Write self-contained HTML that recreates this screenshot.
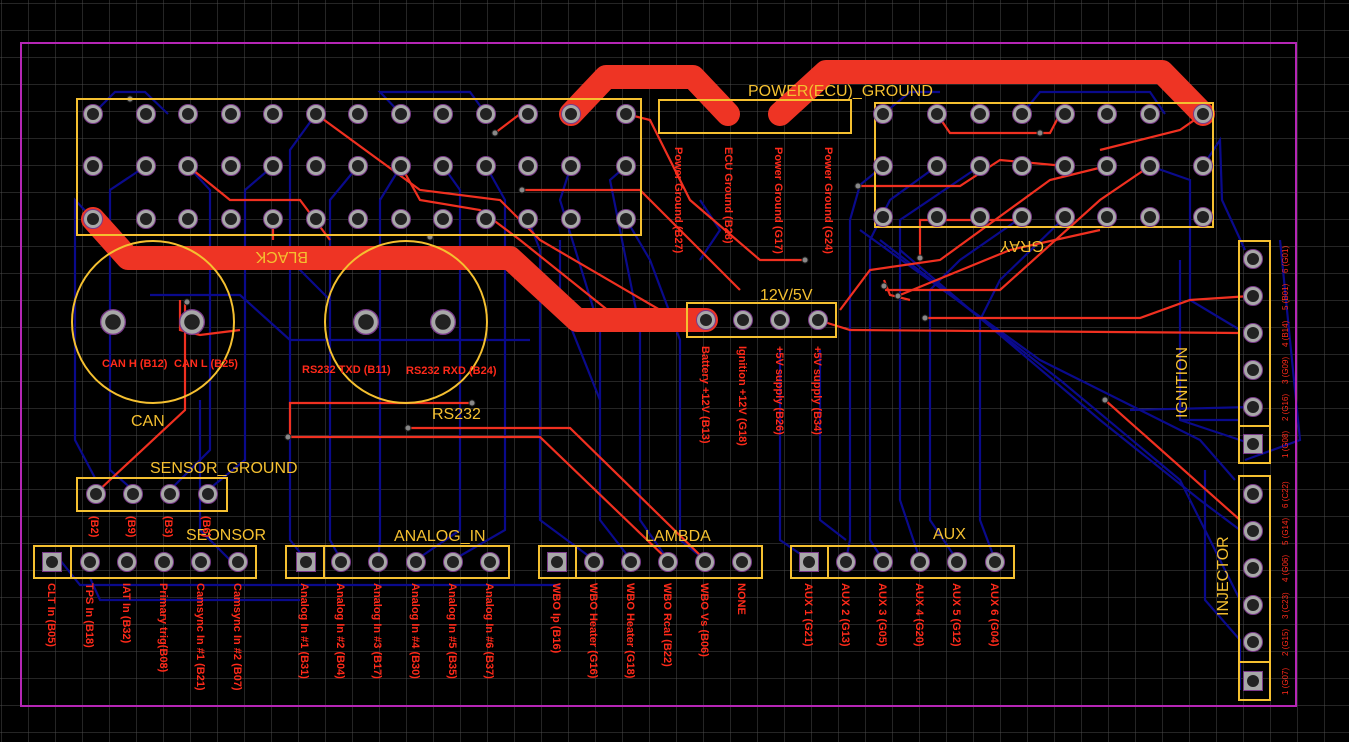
<!DOCTYPE html>
<html><head><meta charset="utf-8"><style>
html,body{margin:0;padding:0;background:#000;}
svg{display:block;}
.lbl{font-family:"Liberation Sans",sans-serif;font-size:11px;font-weight:bold;fill:#ff2a1a;}
.sm{font-family:"Liberation Sans",sans-serif;font-size:8px;fill:#ff2a1a;}
.yl{font-family:"Liberation Sans",sans-serif;font-size:16px;fill:#f5c030;}
</style></head><body>
<svg width="1349" height="742" viewBox="0 0 1349 742" xmlns="http://www.w3.org/2000/svg">
<defs>
<pattern id="g" x="1" y="3" width="27" height="27" patternUnits="userSpaceOnUse">
<path d="M0 0H27M0 0V27" stroke="#4a4a4a" stroke-width="1" fill="none"/>
</pattern>
<g id="p"><circle r="9.5" fill="#a8a8a8" stroke="#7a3a8a" stroke-width="1"/><circle r="6" fill="#222"/></g>
<g id="sq"><rect x="-9.5" y="-9.5" width="19" height="19" fill="#a8a8a8" stroke="#7a3a8a" stroke-width="1"/><circle r="6" fill="#222"/></g>
</defs>
<rect width="1349" height="742" fill="#000"/>
<rect width="1349" height="742" fill="url(#g)"/>

<g stroke="#0a0a8c" stroke-width="2.2" fill="none">
<path d="M93 114 L115 92 L145 92 L168 114"/>
<path d="M93 219 L75 200 L75 440 L95 478"/>
<path d="M146 166 L110 190 L110 470 L133 490"/>
<path d="M188 166 L210 190 L210 450 L170 490"/>
<path d="M273 166 L245 190 L245 460 L208 490"/>
<path d="M316 114 L290 150 L290 540 L306 560"/>
<path d="M358 166 L330 200 L330 540 L341 560"/>
<path d="M401 114 L380 92 L470 92 L486 114"/>
<path d="M401 166 L380 200 L380 540 L378 560"/>
<path d="M443 166 L460 190 L460 530 L416 560"/>
<path d="M486 166 L505 200 L505 530 L453 560"/>
<path d="M528 219 L540 250 L540 520 L594 560"/>
<path d="M571 166 L560 200 L600 330 L600 520 L631 560"/>
<path d="M626 166 L610 180 L640 330 L640 520 L668 560"/>
<path d="M626 219 L650 260 L680 340 L680 540 L705 560"/>
<path d="M883 166 L860 185 L850 220 L850 540 L846 560"/>
<path d="M937 166 L890 200 L870 240 L870 540 L883 560"/>
<path d="M980 166 L900 220 L900 500 L920 560"/>
<path d="M1022 217 L960 260 L930 290 L930 520 L957 560"/>
<path d="M1065 217 L1000 280 L980 320 L980 520 L995 560"/>
<path d="M1150 166 L1190 180 L1190 300 L1240 330"/>
<path d="M1203 166 L1220 140 L1222 200 L1245 250"/>
<path d="M883 114 L910 92 L940 92"/>
<path d="M1022 114 L1040 92 L1150 92 L1165 114"/>
<path d="M900 250 L1100 420 L1200 500 L1240 530"/>
<path d="M880 240 L1060 380 L1180 480 L1240 600"/>
<path d="M860 230 L1040 360 L1200 440 L1235 480"/>
<path d="M1180 260 L1180 420 L1252 444"/>
<path d="M1245 460 L1300 440 L1280 240"/>
<path d="M1180 420 L1240 420"/>
<path d="M1130 410 L1252 407"/>
<path d="M1205 470 L1205 600 L1240 640 L1240 690"/>
<path d="M60 560 L80 585 L260 585 L560 585"/>
<path d="M90 578 L100 600 L300 600"/>
<path d="M140 260 L290 260 L330 300"/>
<path d="M150 295 L240 295 L290 340 L530 340"/>
<path d="M200 400 L200 530 L230 560"/>
<path d="M600 400 L560 300 L560 240"/>
<path d="M700 260 L720 230 L700 200"/>
<path d="M780 350 L780 540 L809 560"/>
<path d="M820 350 L820 520 L846 540"/>
</g>

<g stroke="#f03020" stroke-width="2.2" fill="none">
<path d="M96 493 L185 410 L185 300"/>
<path d="M188 166 L230 200 L300 200 L330 240"/>
<path d="M273 219 L273 240"/>
<path d="M316 114 L420 190 L500 200 L540 240 L660 310 L706 320"/>
<path d="M401 166 L420 200 L480 210 L520 240 L620 320"/>
<path d="M495 133 L520 114"/>
<path d="M522 190 L640 190 L700 250 L740 290"/>
<path d="M626 114 L650 120 L690 200 L760 260 L805 260"/>
<path d="M472 403 L290 403 L290 437"/>
<path d="M288 437 L540 437 L668 560"/>
<path d="M408 428 L570 428 L705 560"/>
<path d="M180 300 L180 330 L200 335 L240 330"/>
<path d="M818 320 L850 330 L1240 333"/>
<path d="M840 310 L870 270 L940 260 L1050 180 L1107 166"/>
<path d="M858 186 L960 186 L1000 160 L1065 166"/>
<path d="M885 290 L1000 290 L1100 200 L1150 166"/>
<path d="M900 295 L1010 250 L1100 230"/>
<path d="M920 258 L920 220 L1022 220"/>
<path d="M925 318 L1140 318 L1190 300 L1250 296"/>
<path d="M1105 400 L1240 520"/>
<path d="M937 114 L950 133 L1050 133 L1060 114"/>
<path d="M1203 114 L1180 130 L1100 150"/>
<path d="M884 280 L890 295 L910 300"/>
</g>

<g stroke="#ee3424" stroke-width="24" fill="none" stroke-linecap="round" stroke-linejoin="round">
<path d="M571 114 L606 77 L693 77 L728 114"/>
<path d="M780 114 L826 72 L1162 72 L1203 114"/>
<path d="M93 219 L128 258 L510 258 L577 320 L706 320"/>
</g>

<g fill="#888" stroke="#222" stroke-width="1">
<circle cx="130" cy="99" r="3"/><circle cx="495" cy="133" r="3"/><circle cx="522" cy="190" r="3"/>
<circle cx="430" cy="237" r="3"/><circle cx="187" cy="302" r="3"/><circle cx="472" cy="403" r="3"/>
<circle cx="288" cy="437" r="3"/><circle cx="408" cy="428" r="3"/><circle cx="805" cy="260" r="3"/>
<circle cx="858" cy="186" r="3"/><circle cx="920" cy="258" r="3"/><circle cx="884" cy="286" r="3"/>
<circle cx="898" cy="296" r="3"/><circle cx="925" cy="318" r="3"/><circle cx="1105" cy="400" r="3"/>
<circle cx="1040" cy="133" r="3"/>
</g>

<rect x="21" y="43" width="1275" height="663" fill="none" stroke="#b526b5" stroke-width="2"/>

<g fill="none" stroke="#f5c030" stroke-width="2">
<rect x="77" y="99" width="564" height="136"/>
<rect x="875" y="103" width="338" height="124"/>
<rect x="659" y="100" width="192" height="33"/>
<circle cx="153" cy="322" r="81"/>
<circle cx="406" cy="322" r="81"/>
<rect x="687" y="303" width="149" height="34"/>
<rect x="77" y="478" width="150" height="33"/>
<rect x="34" y="546" width="222" height="32"/><line x1="71" y1="546" x2="71" y2="578"/>
<rect x="286" y="546" width="223" height="32"/><line x1="324" y1="546" x2="324" y2="578"/>
<rect x="539" y="546" width="223" height="32"/><line x1="576" y1="546" x2="576" y2="578"/>
<rect x="791" y="546" width="223" height="32"/><line x1="828" y1="546" x2="828" y2="578"/>
<rect x="1239" y="241" width="31" height="222"/><line x1="1239" y1="426" x2="1270" y2="426"/>
<rect x="1239" y="476" width="31" height="224"/><line x1="1239" y1="662" x2="1270" y2="662"/>
</g>

<g>
<use href="#p" x="93" y="114"/><use href="#p" x="146" y="114"/><use href="#p" x="188" y="114"/><use href="#p" x="231" y="114"/><use href="#p" x="273" y="114"/><use href="#p" x="316" y="114"/><use href="#p" x="358" y="114"/><use href="#p" x="401" y="114"/><use href="#p" x="443" y="114"/><use href="#p" x="486" y="114"/><use href="#p" x="528" y="114"/><use href="#p" x="571" y="114"/><use href="#p" x="626" y="114"/>
<use href="#p" x="93" y="166"/><use href="#p" x="146" y="166"/><use href="#p" x="188" y="166"/><use href="#p" x="231" y="166"/><use href="#p" x="273" y="166"/><use href="#p" x="316" y="166"/><use href="#p" x="358" y="166"/><use href="#p" x="401" y="166"/><use href="#p" x="443" y="166"/><use href="#p" x="486" y="166"/><use href="#p" x="528" y="166"/><use href="#p" x="571" y="166"/><use href="#p" x="626" y="166"/>
<use href="#p" x="93" y="219"/><use href="#p" x="146" y="219"/><use href="#p" x="188" y="219"/><use href="#p" x="231" y="219"/><use href="#p" x="273" y="219"/><use href="#p" x="316" y="219"/><use href="#p" x="358" y="219"/><use href="#p" x="401" y="219"/><use href="#p" x="443" y="219"/><use href="#p" x="486" y="219"/><use href="#p" x="528" y="219"/><use href="#p" x="571" y="219"/><use href="#p" x="626" y="219"/>
<use href="#p" x="883" y="114"/><use href="#p" x="937" y="114"/><use href="#p" x="980" y="114"/><use href="#p" x="1022" y="114"/><use href="#p" x="1065" y="114"/><use href="#p" x="1107" y="114"/><use href="#p" x="1150" y="114"/><use href="#p" x="1203" y="114"/>
<use href="#p" x="883" y="166"/><use href="#p" x="937" y="166"/><use href="#p" x="980" y="166"/><use href="#p" x="1022" y="166"/><use href="#p" x="1065" y="166"/><use href="#p" x="1107" y="166"/><use href="#p" x="1150" y="166"/><use href="#p" x="1203" y="166"/>
<use href="#p" x="883" y="217"/><use href="#p" x="937" y="217"/><use href="#p" x="980" y="217"/><use href="#p" x="1022" y="217"/><use href="#p" x="1065" y="217"/><use href="#p" x="1107" y="217"/><use href="#p" x="1150" y="217"/><use href="#p" x="1203" y="217"/>
<g transform="translate(113,322) scale(1.3)"><use href="#p"/></g><g transform="translate(192,322) scale(1.3)"><use href="#p"/></g>
<g transform="translate(366,322) scale(1.3)"><use href="#p"/></g><g transform="translate(443,322) scale(1.3)"><use href="#p"/></g>
<use href="#p" x="706" y="320"/><use href="#p" x="743" y="320"/><use href="#p" x="780" y="320"/><use href="#p" x="818" y="320"/>
<use href="#p" x="96" y="494"/><use href="#p" x="133" y="494"/><use href="#p" x="170" y="494"/><use href="#p" x="208" y="494"/>
<use href="#sq" x="52" y="562"/><use href="#p" x="90" y="562"/><use href="#p" x="127" y="562"/><use href="#p" x="164" y="562"/><use href="#p" x="201" y="562"/><use href="#p" x="238" y="562"/>
<use href="#sq" x="306" y="562"/><use href="#p" x="341" y="562"/><use href="#p" x="378" y="562"/><use href="#p" x="416" y="562"/><use href="#p" x="453" y="562"/><use href="#p" x="490" y="562"/>
<use href="#sq" x="557" y="562"/><use href="#p" x="594" y="562"/><use href="#p" x="631" y="562"/><use href="#p" x="668" y="562"/><use href="#p" x="705" y="562"/><use href="#p" x="742" y="562"/>
<use href="#sq" x="809" y="562"/><use href="#p" x="846" y="562"/><use href="#p" x="883" y="562"/><use href="#p" x="920" y="562"/><use href="#p" x="957" y="562"/><use href="#p" x="995" y="562"/>
<use href="#p" x="1253" y="259"/><use href="#p" x="1253" y="296"/><use href="#p" x="1253" y="333"/><use href="#p" x="1253" y="370"/><use href="#p" x="1253" y="407"/><use href="#sq" x="1253" y="444"/>
<use href="#p" x="1253" y="494"/><use href="#p" x="1253" y="531"/><use href="#p" x="1253" y="568"/><use href="#p" x="1253" y="605"/><use href="#p" x="1253" y="642"/><use href="#sq" x="1253" y="681"/>
</g>

<text class="yl" x="748" y="96">POWER(ECU)_GROUND</text>
<text class="yl" x="362" y="240" transform="rotate(180 335 246)">BLACK</text>
<text class="yl" x="1000" y="227" transform="rotate(180 1022 234)">GRAY</text>
<text class="yl" x="760" y="300">12V/5V</text>
<text class="yl" x="131" y="426">CAN</text>
<text class="yl" x="432" y="419">RS232</text>
<text class="yl" x="150" y="473">SENSOR_GROUND</text>
<text class="yl" x="186" y="540">SEONSOR</text>
<text class="yl" x="394" y="541">ANALOG_IN</text>
<text class="yl" x="645" y="541">LAMBDA</text>
<text class="yl" x="933" y="539">AUX</text>
<text class="yl" transform="translate(1187,418) rotate(-90)">IGNITION</text>
<text class="yl" transform="translate(1228,616) rotate(-90)">INJECTOR</text>

<g class="lbl">
<text x="102" y="367">CAN H (B12)</text><text x="174" y="367">CAN L (B25)</text>
<text x="302" y="373">RS232 TXD (B11)</text><text x="406" y="374">RS232 RXD (B24)</text>
<g transform="translate(675,147) rotate(90)"><text>Power Ground (B27)</text></g>
<g transform="translate(725,147) rotate(90)"><text>ECU Ground (B28)</text></g>
<g transform="translate(775,147) rotate(90)"><text>Power Ground (G17)</text></g>
<g transform="translate(825,147) rotate(90)"><text>Power Ground (G24)</text></g>
<g transform="translate(702,346) rotate(90)"><text>Battery +12V (B13)</text></g>
<g transform="translate(739,346) rotate(90)"><text>Ignition +12V (G18)</text></g>
<g transform="translate(776,346) rotate(90)"><text>+5V supply (B26)</text></g>
<g transform="translate(814,346) rotate(90)"><text>+5V supply (B34)</text></g>
<g transform="translate(91,516) rotate(90)"><text>(B2)</text></g>
<g transform="translate(128,516) rotate(90)"><text>(B9)</text></g>
<g transform="translate(165,516) rotate(90)"><text>(B3)</text></g>
<g transform="translate(203,516) rotate(90)"><text>(B6)</text></g>
<g transform="translate(48,583) rotate(90)"><text>CLT In (B05)</text></g>
<g transform="translate(86,583) rotate(90)"><text>TPS In (B18)</text></g>
<g transform="translate(123,583) rotate(90)"><text>IAT In (B32)</text></g>
<g transform="translate(160,583) rotate(90)"><text>Primary trig(B08)</text></g>
<g transform="translate(197,583) rotate(90)"><text>Camsync In #1 (B21)</text></g>
<g transform="translate(234,583) rotate(90)"><text>Camsync In #2 (B07)</text></g>
<g transform="translate(301,583) rotate(90)"><text>Analog In #1 (B31)</text></g>
<g transform="translate(337,583) rotate(90)"><text>Analog In #2 (B04)</text></g>
<g transform="translate(374,583) rotate(90)"><text>Analog In #3 (B17)</text></g>
<g transform="translate(412,583) rotate(90)"><text>Analog In #4 (B30)</text></g>
<g transform="translate(449,583) rotate(90)"><text>Analog In #5 (B35)</text></g>
<g transform="translate(486,583) rotate(90)"><text>Analog In #6 (B37)</text></g>
<g transform="translate(553,583) rotate(90)"><text>WBO Ip (B16)</text></g>
<g transform="translate(590,583) rotate(90)"><text>WBO Heater (G16)</text></g>
<g transform="translate(627,583) rotate(90)"><text>WBO Heater (G18)</text></g>
<g transform="translate(664,583) rotate(90)"><text>WBO Rcal (B22)</text></g>
<g transform="translate(701,583) rotate(90)"><text>WBO Vs (B06)</text></g>
<g transform="translate(738,583) rotate(90)"><text>NONE</text></g>
<g transform="translate(805,583) rotate(90)"><text>AUX 1 (G21)</text></g>
<g transform="translate(842,583) rotate(90)"><text>AUX 2 (G13)</text></g>
<g transform="translate(879,583) rotate(90)"><text>AUX 3 (G05)</text></g>
<g transform="translate(916,583) rotate(90)"><text>AUX 4 (G20)</text></g>
<g transform="translate(953,583) rotate(90)"><text>AUX 5 (G12)</text></g>
<g transform="translate(991,583) rotate(90)"><text>AUX 6 (G04)</text></g>
</g>
<g class="sm">
<text transform="translate(1288,273) rotate(-90)">6 (G01)</text>
<text transform="translate(1288,310) rotate(-90)">5 (B01)</text>
<text transform="translate(1288,347) rotate(-90)">4 (B14)</text>
<text transform="translate(1288,384) rotate(-90)">3 (G09)</text>
<text transform="translate(1288,421) rotate(-90)">2 (G16)</text>
<text transform="translate(1288,458) rotate(-90)">1 (G08)</text>
<text transform="translate(1288,508) rotate(-90)">6 (C22)</text>
<text transform="translate(1288,545) rotate(-90)">5 (G14)</text>
<text transform="translate(1288,582) rotate(-90)">4 (G06)</text>
<text transform="translate(1288,619) rotate(-90)">3 (C23)</text>
<text transform="translate(1288,656) rotate(-90)">2 (G15)</text>
<text transform="translate(1288,695) rotate(-90)">1 (G07)</text>
</g>
</svg>
</body></html>
